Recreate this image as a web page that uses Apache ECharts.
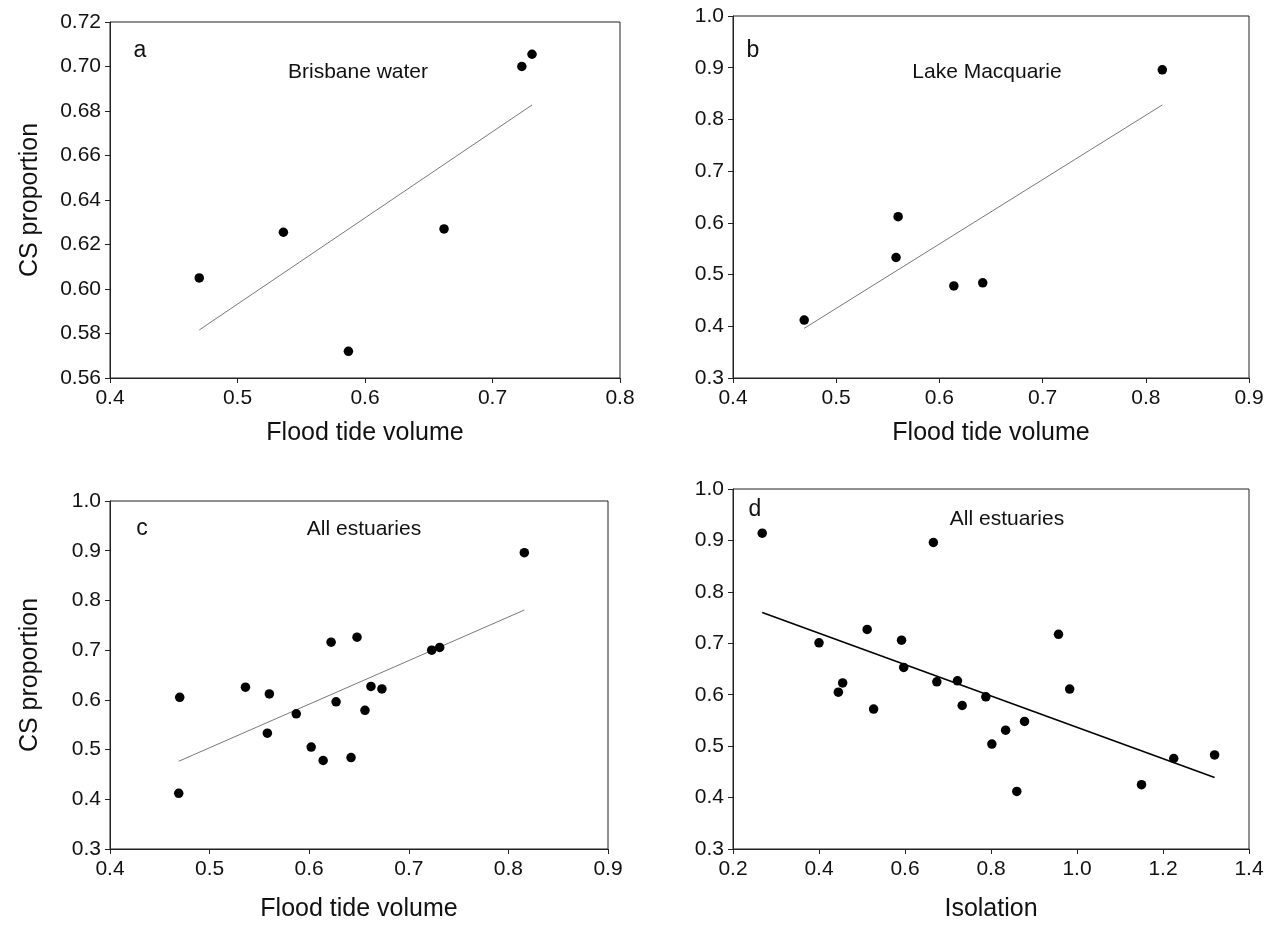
<!DOCTYPE html>
<html><head><meta charset="utf-8">
<script src="https://cdn.jsdelivr.net/npm/echarts@6/dist/echarts.min.js"></script>
<style>html,body{margin:0;padding:0;background:#fff}#c{width:1273px;height:928px}</style>
</head><body><div id="c"></div>
<script>
// Panel a: Brisbane water
const aX = [0.470, 0.536, 0.587, 0.662, 0.723, 0.731];
const aY = [0.605, 0.6255, 0.572, 0.627, 0.700, 0.7055];
const aFitX = [0.470, 0.731];
const aFitY = [0.5816, 0.6827];
// Panel b: Lake Macquarie
const bX = [0.469, 0.558, 0.560, 0.614, 0.642, 0.816];
const bY = [0.412, 0.533, 0.612, 0.478, 0.484, 0.896];
const bFitX = [0.469, 0.816];
const bFitY = [0.396, 0.828];
// Panel c: All estuaries vs flood tide volume
const cX = [0.470, 0.536, 0.587, 0.662, 0.723, 0.731, 0.469, 0.558, 0.560, 0.614, 0.642, 0.816, 0.622, 0.648, 0.673, 0.627, 0.656, 0.602];
const cY = [0.605, 0.6255, 0.572, 0.627, 0.700, 0.7055, 0.412, 0.533, 0.612, 0.478, 0.484, 0.896, 0.716, 0.726, 0.622, 0.596, 0.579, 0.505];
const cFitX = [0.469, 0.816];
const cFitY = [0.4765, 0.7807];
// Panel d: All estuaries vs isolation
const dX = [0.268, 0.666, 0.512, 0.400, 0.592, 0.957, 0.597, 0.455, 0.445, 0.674, 0.722, 0.983, 0.527, 0.733, 0.788, 0.878, 0.834, 0.802, 0.860, 1.150, 1.225, 1.320];
const dY = [0.914, 0.896, 0.727, 0.701, 0.706, 0.7175, 0.653, 0.623, 0.605, 0.625, 0.627, 0.611, 0.572, 0.579, 0.596, 0.548, 0.531, 0.504, 0.412, 0.425, 0.476, 0.483];
const dFitX = [0.268, 1.320];
const dFitY = [0.760, 0.439];

const panelLetters = ['a', 'b', 'c', 'd'];
const panelTitles = ['Brisbane water', 'Lake Macquarie', 'All estuaries', 'All estuaries'];
const xTitles = ['Flood tide volume', 'Flood tide volume', 'Flood tide volume', 'Isolation'];
const yTitle = 'CS proportion';

const FONT = '"Liberation Sans", Arial, Helvetica, sans-serif';
const pair = (xs, ys) => xs.map((x, i) => [x, ys[i]]);

const grids = [
  {left: 110, top: 22, width: 510, height: 356},
  {left: 733, top: 16, width: 516, height: 362},
  {left: 110, top: 501, width: 498, height: 348},
  {left: 733, top: 489, width: 516, height: 360}
].map(g => Object.assign({show: true, borderColor: '#222', borderWidth: 1, backgroundColor: 'transparent'}, g));

const xRanges = [[0.4, 0.8, 0.1], [0.4, 0.9, 0.1], [0.4, 0.9, 0.1], [0.2, 1.4, 0.2]];
const yRanges = [[0.56, 0.72, 0.02], [0.3, 1.0, 0.1], [0.3, 1.0, 0.1], [0.3, 1.0, 0.1]];
const yDec = [2, 1, 1, 1];

const axisCommon = {
  axisLine: {show: true, lineStyle: {color: '#222', width: 1}},
  axisTick: {show: true, inside: false, length: 5, lineStyle: {color: '#222', width: 1}},
  splitLine: {show: false},
  axisLabel: {color: '#111', fontSize: 21, fontFamily: FONT}
};

const xAxis = xRanges.map((r, i) => Object.assign({}, axisCommon, {
  type: 'value', gridIndex: i, min: r[0], max: r[1], interval: r[2],
  name: xTitles[i], nameLocation: 'middle', nameGap: i < 2 ? 43 : 48,
  nameTextStyle: {color: '#111', fontSize: 25, fontFamily: FONT},
  axisLabel: Object.assign({}, axisCommon.axisLabel, {margin: 10, formatter: v => v.toFixed(1)})
}));

const yAxis = yRanges.map((r, i) => Object.assign({}, axisCommon, {
  type: 'value', gridIndex: i, min: r[0], max: r[1], interval: r[2],
  name: (i === 0 || i === 2) ? yTitle : '', nameLocation: 'middle', nameGap: 67,
  nameTextStyle: {color: '#111', fontSize: 25, fontFamily: FONT},
  axisLabel: Object.assign({}, axisCommon.axisLabel, {margin: 9, formatter: v => v.toFixed(yDec[i])})
}));

const scat = [pair(aX, aY), pair(bX, bY), pair(cX, cY), pair(dX, dY)];
const fits = [pair(aFitX, aFitY), pair(bFitX, bFitY), pair(cFitX, cFitY), pair(dFitX, dFitY)];

const series = [];
for (let i = 0; i < 4; i++) {
  series.push({
    type: 'line', xAxisIndex: i, yAxisIndex: i, data: fits[i], symbol: 'none', silent: true,
    lineStyle: {color: i === 3 ? '#000' : '#555', width: i === 3 ? 1.6 : 0.8}, z: 2
  });
  series.push({
    type: 'scatter', xAxisIndex: i, yAxisIndex: i, data: scat[i], symbol: 'circle', symbolSize: 9.5,
    itemStyle: {color: '#000', opacity: 1}, z: 3
  });
}

const letterPos = [[140, 51], [753, 51], [142, 529], [755, 510]];
const titlePos = [[358, 72], [987, 72], [364, 529], [1007, 519]];
const graphic = [];
for (let i = 0; i < 4; i++) {
  graphic.push({type: 'text', x: letterPos[i][0], y: letterPos[i][1],
    style: {text: panelLetters[i], fill: '#111', font: '23px ' + FONT, textAlign: 'center', textVerticalAlign: 'middle'}});
  graphic.push({type: 'text', x: titlePos[i][0], y: titlePos[i][1],
    style: {text: panelTitles[i], fill: '#111', font: '21px ' + FONT, textAlign: 'center', textVerticalAlign: 'middle'}});
}

const chart = echarts.init(document.getElementById('c'), null, {renderer: 'canvas'});
chart.setOption({
  backgroundColor: '#fff',
  animation: false,
  grid: grids,
  xAxis: xAxis,
  yAxis: yAxis,
  series: series,
  graphic: graphic
});
</script></body></html>
